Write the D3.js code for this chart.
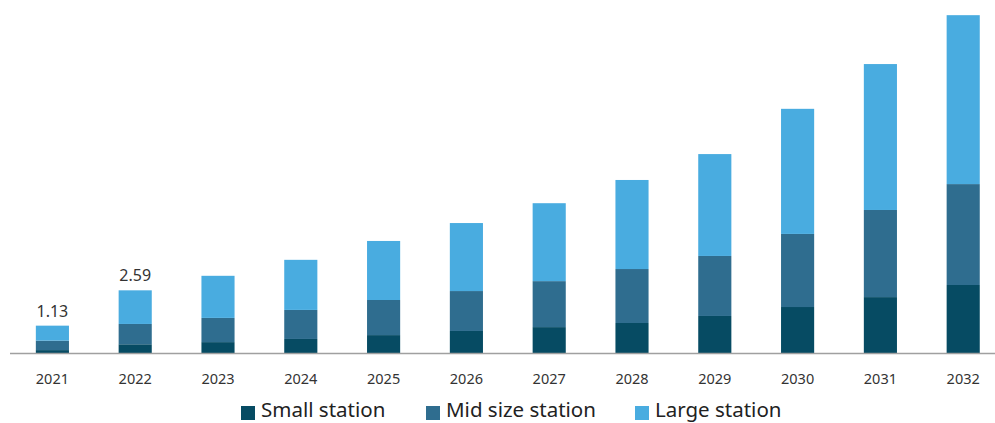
<!DOCTYPE html>
<html>
<head>
<meta charset="utf-8">
<script src="https://cdn.jsdelivr.net/npm/d3@7"></script>
<style>
  body { margin: 0; background: #fff; }
  svg { font-family: "Source Sans Pro", "Noto Sans", sans-serif; }
</style>
</head>
<body>
<svg id="chart" width="995" height="423"></svg>
<script>
const years = ["2021", "2022", "2023", "2024", "2025", "2026", "2027", "2028", "2029", "2030", "2031", "2032"];
const small = [0.12, 0.36, 0.45, 0.58, 0.74, 0.91, 1.07, 1.24, 1.53, 1.90, 2.31, 2.81];
const mid = [0.39, 0.84, 1.00, 1.20, 1.45, 1.65, 1.90, 2.23, 2.48, 3.02, 3.60, 4.17];
const large = [0.62, 1.39, 1.74, 2.07, 2.44, 2.81, 3.22, 3.68, 4.21, 5.17, 6.03, 6.98];
const seriesNames = ["Small station", "Mid size station", "Large station"];
const colors = ["#064b63", "#2f6d8f", "#49ace0"];
const labelled = { "2021": "1.13", "2022": "2.59" };

const svg = d3.select("#chart"),
  width = +svg.attr("width"),
  height = +svg.attr("height");

const baseY = 353;

const rows = years.map((y, i) => ({ year: y, small: small[i], mid: mid[i], large: large[i] }));
const layers = d3.stack().keys(["small", "mid", "large"])(rows);

const x = d3.scaleBand().domain(years).range([11, 11 + 82.8 * 12]).paddingInner(0.6).paddingOuter(0.3);
const y = d3.scaleLinear().domain([0, 14.587]).range([baseY, 0]);

svg.append("g")
  .selectAll("g")
  .data(layers)
  .join("g")
  .attr("fill", (d, i) => colors[i])
  .selectAll("rect")
  .data(d => d)
  .join("rect")
  .attr("x", d => x(d.data.year))
  .attr("y", d => y(d[1]))
  .attr("width", x.bandwidth())
  .attr("height", d => y(d[0]) - y(d[1]));

// x axis
const axis = svg.append("g")
  .attr("transform", `translate(0,${baseY})`)
  .call(d3.axisBottom(x).tickSize(0).tickPadding(21));
axis.select(".domain").attr("d", `M10,0.5H${width}`).attr("stroke", "#a0a0a0").attr("stroke-width", 1.5);
axis.selectAll("text")
  .attr("font-size", 14.5)
  .attr("fill", "#333")
  .style("font-family", '"Source Sans Pro", "Noto Sans", sans-serif');

// value labels on first two bars
svg.append("g")
  .selectAll("text")
  .data(rows.filter(d => labelled[d.year]))
  .join("text")
  .attr("x", d => x(d.year) + x.bandwidth() / 2)
  .attr("y", d => y(d.small + d.mid + d.large) - 9)
  .attr("text-anchor", "middle")
  .attr("font-size", 16)
  .attr("fill", "#333")
  .text(d => labelled[d.year]);

// legend
const legendX = [241, 426, 635];
const legend = svg.append("g")
  .selectAll("g")
  .data(seriesNames)
  .join("g")
  .attr("transform", (d, i) => `translate(${legendX[i]},406)`);
legend.append("rect")
  .attr("width", 14)
  .attr("height", 14)
  .attr("fill", (d, i) => colors[i]);
legend.append("text")
  .attr("x", 20)
  .attr("y", 11)
  .attr("font-size", 20.5)
  .attr("fill", "#222")
  .text(d => d);
</script>
</body>
</html>
